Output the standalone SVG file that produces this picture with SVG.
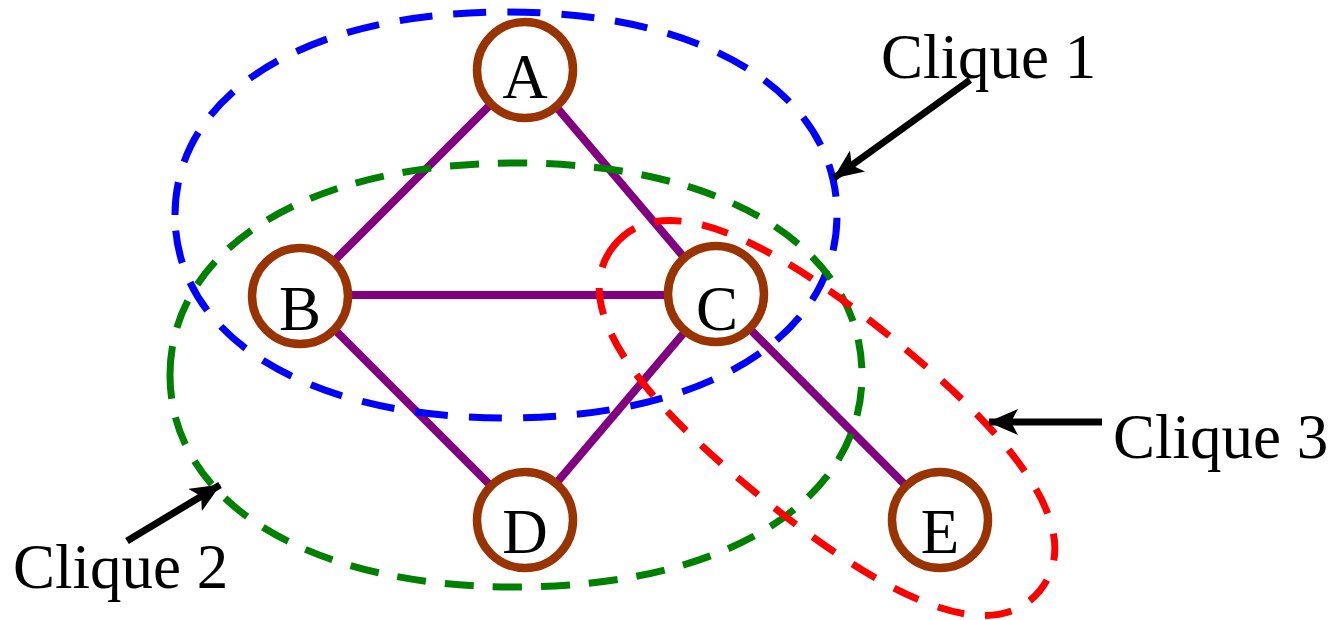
<svg xmlns="http://www.w3.org/2000/svg" width="1336" height="620" viewBox="0 0 1336 620">
  <style>
    .edge { stroke: #800080; stroke-width: 8; fill: none; }
    .node circle { fill: #ffffff; stroke: #993300; stroke-width: 8.5; }
    .node text { font-family: "Liberation Serif", "Times New Roman", serif; font-size: 63px; fill: #000; text-anchor: middle; }
    .clique { fill: none; stroke-width: 7; }
    .label { font-family: "Liberation Serif", "Times New Roman", serif; font-size: 63px; fill: #000; }
    .arrow { stroke: #000; stroke-width: 7; fill: none; marker-end: url(#head); }
  </style>
  <defs>
    <marker id="head" markerUnits="userSpaceOnUse" markerWidth="34" markerHeight="30" refX="29" refY="13" orient="auto">
      <path d="M0,0 L30,13 L0,26 L7,13 Z" fill="#000"/>
    </marker>
  </defs>
  <rect width="1336" height="620" fill="#ffffff"/>

  <g id="connectors">
    <line class="edge" x1="525" y1="70" x2="300" y2="295"/>
    <line class="edge" x1="525" y1="70" x2="716" y2="295"/>
    <line class="edge" x1="300" y1="295" x2="716" y2="295"/>
    <line class="edge" x1="300" y1="295" x2="525" y2="520"/>
    <line class="edge" x1="716" y1="295" x2="525" y2="520"/>
    <line class="edge" x1="716" y1="295" x2="940" y2="520"/>
  </g>

  <g id="clique1-outline">
    <path class="clique" stroke="#0000ff" stroke-dasharray="33 21" d="M 175,215 C 175,93 307,12 506,12 C 705,12 837,93 837,215 C 837,337 705,418 506,418 C 307,418 175,337 175,215 Z"/>
  </g>
  <g id="clique2-outline">
    <path class="clique" stroke="#008000" stroke-dasharray="29 19" d="M 170,375 C 170,248 308,163 516,163 C 724,163 862,248 862,375 C 862,502 724,587 516,587 C 308,587 170,502 170,375 Z"/>
  </g>
  <g id="clique3-outline" transform="translate(827,418) rotate(39)">
    <path class="clique" stroke="#ff0000" stroke-dasharray="27 21" d="M -274,0 C -274,-68 -182,-103 0,-103 C 182,-103 274,-68 274,0 C 274,68 182,103 0,103 C -182,103 -274,68 -274,0 Z"/>
  </g>

  <g id="node-A" class="node">
    <circle cx="525" cy="70" r="48"/>
    <text x="525" y="98">A</text>
  </g>
  <g id="node-B" class="node">
    <circle cx="300" cy="296" r="48"/>
    <text x="300" y="330">B</text>
  </g>
  <g id="node-C" class="node">
    <circle cx="716" cy="294" r="48"/>
    <text x="717" y="330">C</text>
  </g>
  <g id="node-D" class="node">
    <circle cx="525" cy="520" r="48"/>
    <text x="525" y="553">D</text>
  </g>
  <g id="node-E" class="node">
    <circle cx="940" cy="520" r="48"/>
    <text x="940" y="553">E</text>
  </g>

  <g id="annotations">
    <line class="arrow" x1="970" y1="80" x2="834" y2="178"/>
    <line class="arrow" x1="1102" y1="422" x2="989" y2="422"/>
    <line class="arrow" x1="127" y1="541" x2="220" y2="485"/>
    <text class="label" x="881" y="78">Clique 1</text>
    <text class="label" x="1113" y="458">Clique 3</text>
    <text class="label" x="13" y="588">Clique 2</text>
  </g>
</svg>
